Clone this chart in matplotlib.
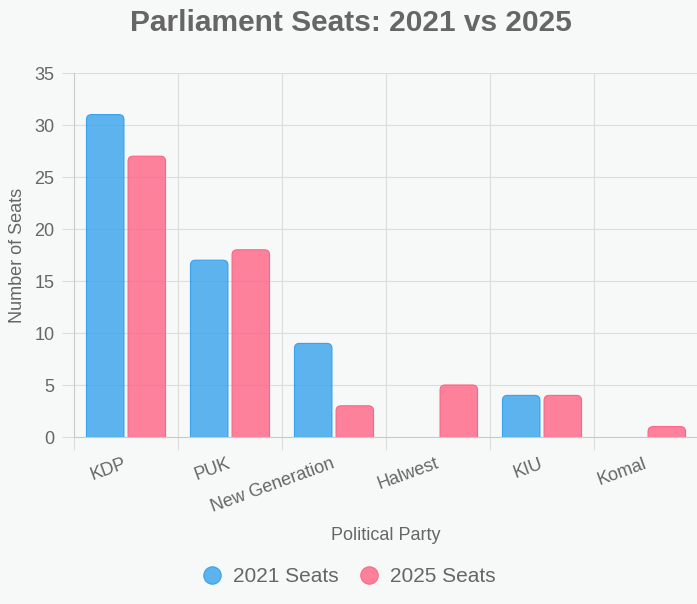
import matplotlib
matplotlib.use("Agg")
import matplotlib.pyplot as plt
from matplotlib.patches import FancyBboxPatch
from matplotlib.lines import Line2D
import matplotlib.transforms as mtransforms
import numpy as np

plt.rcParams['font.family'] = ['Liberation Sans', 'DejaVu Sans']

parties = ["KDP", "PUK", "New Generation", "Halwest", "KIU", "Komal"]
seats_2021 = [31, 17, 9, 0, 4, 0]
seats_2025 = [27, 18, 3, 5, 4, 1]
series_labels = ["2021 Seats", "2025 Seats"]
y_ticks = [0, 5, 10, 15, 20, 25, 30, 35]

BG = '#f7f8f8'
TXT = '#666666'
GRID = '#dcdddd'
AXC = '#c9caca'
c1_face = (54/255, 162/255, 235/255, 0.8)
c1_edge = (54/255, 162/255, 235/255, 1.0)
c2_face = (255/255, 99/255, 132/255, 0.8)
c2_edge = (255/255, 99/255, 132/255, 1.0)

W, H = 697, 604
fig = plt.figure(figsize=(W/100, H/100), dpi=100, facecolor=BG)
left, right, top, bottom = 74, 698, 73, 437
ax = fig.add_axes([left/W, 1-bottom/H, (right-left)/W, (bottom-top)/H])
ax.set_facecolor(BG)

n = len(parties)
ymax = 35
ax.set_xlim(-0.5, n-0.5)
ax.set_ylim(0, ymax)

px_per_x = (right-left)/n
px_per_y = (bottom-top)/ymax
radius_px = 5
rx = radius_px/px_per_x
aspect = px_per_x/px_per_y

bar_w = 0.36
offset = 0.2
for vals, face, edge, off in [(seats_2021, c1_face, c1_edge, -offset),
                              (seats_2025, c2_face, c2_edge, offset)]:
    for i, v in enumerate(vals):
        if v <= 0:
            continue
        ext = radius_px/px_per_y
        p = FancyBboxPatch((i+off-bar_w/2, -ext), bar_w, v+ext,
                           boxstyle=f"round,pad=0,rounding_size={rx}",
                           mutation_aspect=aspect,
                           facecolor=face, edgecolor=edge, linewidth=0.8,
                           zorder=3)
        ax.add_patch(p)

# grid
ax.set_yticks(y_ticks)
ax.set_yticklabels([str(t) for t in y_ticks])
ax.set_xticks(np.arange(n))
ax.set_xticklabels(parties, rotation=20, ha='right', va='top')
ax.set_xticks(np.arange(n+1)-0.5, minor=True)
ax.tick_params(axis='x', which='major', length=0, pad=13, labelsize=13, labelcolor=TXT)
ax.tick_params(axis='x', which='minor', length=9, width=0.8, color=GRID)
ax.tick_params(axis='y', length=9, width=0.8, color=GRID, pad=5, labelsize=13, labelcolor=TXT)
shift = mtransforms.ScaledTranslation(3/100, 0, fig.dpi_scale_trans)
for lab in ax.get_xticklabels():
    lab.set_transform(lab.get_transform() + shift)
ax.grid(True, axis='y', color=GRID, linewidth=0.8, zorder=0)
ax.grid(True, axis='x', which='minor', color=GRID, linewidth=0.8, zorder=0)
ax.grid(False, axis='x', which='major')
ax.set_axisbelow(True)
for s in ['top', 'right']:
    ax.spines[s].set_visible(False)
for s in ['left', 'bottom']:
    ax.spines[s].set_color(AXC)
    ax.spines[s].set_linewidth(0.8)

fig.text(0.503, 1-23/H, "Parliament Seats: 2021 vs 2025", ha='center', va='center',
         fontsize=21.5, fontweight='bold', color=TXT)
fig.text(18/W, 1-255/H, "Number of Seats", rotation=90, ha='center', va='center',
         fontsize=13, color=TXT)
fig.text(386/W, 1-535/H, "Political Party", ha='center', va='center',
         fontsize=13, color=TXT)

handles = [Line2D([], [], linestyle='none', marker='o', markersize=12.5,
                  markerfacecolor=c1_face, markeredgecolor=c1_edge, markeredgewidth=0.8),
           Line2D([], [], linestyle='none', marker='o', markersize=12.5,
                  markerfacecolor=c2_face, markeredgecolor=c2_edge, markeredgewidth=0.8)]
leg = fig.legend(handles, series_labels, loc='center', bbox_to_anchor=(0.5, 1-577/H),
                 ncol=2, frameon=False, fontsize=15, handletextpad=0.5,
                 columnspacing=0.95, handlelength=1.0)
for t in leg.get_texts():
    t.set_color(TXT)

fig.savefig("out.png", dpi=100, facecolor=BG)
